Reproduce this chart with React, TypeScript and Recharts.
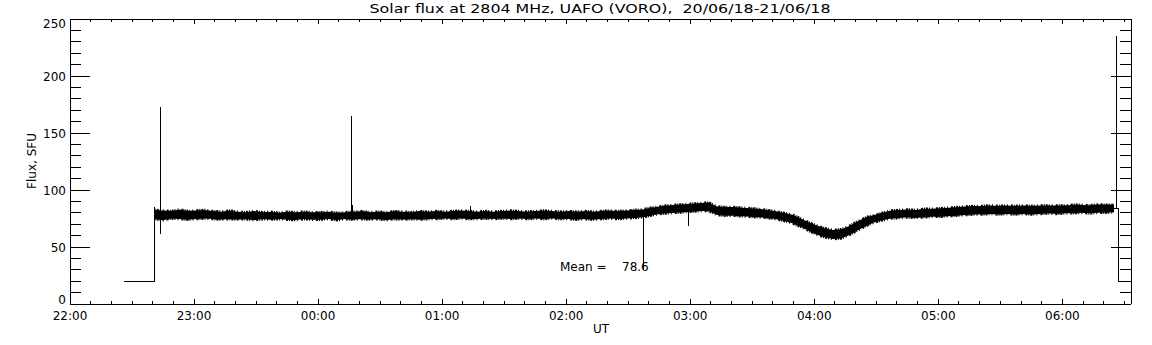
import { ComposedChart, Area, Line, XAxis, YAxis } from 'recharts'

// Plot frame of the IDL-style figure, in page pixels.
const PLOT = { left: 70, right: 1131, top: 19, bottom: 304 }
const W = 1152
const H = 345
const FONT = '"DejaVu Sans", sans-serif'

const TITLE = 'Solar flux at 2804 MHz, UAFO (VORO),  20/06/18-21/06/18'
const X_TITLE = 'UT'
const Y_TITLE = 'Flux, SFU'
const MEAN_LABEL = 'Mean ='
const MEAN_VALUE = '78.6'

// time axis is minutes after 22:00 UT
const hourLabels = ['22:00', '23:00', '00:00', '01:00', '02:00', '03:00', '04:00', '05:00', '06:00']
const fluxLabels = [0, 50, 100, 150, 200, 250]
const X_END = 513.2

// noisy flux band, read every 4 min starting at 22:41
const bandStart = 41
const bandStep = 4
const bandLow = [
  74.5, 73.5, 75, 74.5, 74, 74.5, 75, 74.5, 74, 74.5,
  74, 74.5, 73.5, 74.5, 74, 74.5, 74, 73.5, 74.5, 74,
  74, 74.5, 73.5, 74.5, 74, 74.5, 74, 74.5, 73.5, 74.5,
  74, 74.5, 74, 74.5, 74.5, 75, 74.5, 75, 74.5, 74.5,
  75, 74.5, 75, 74.5, 75, 74.5, 75, 74.5, 75, 74.5,
  74.5, 74, 74.5, 74, 74.5, 75, 74.5, 75, 75.5, 76,
  77.5, 79, 79.5, 80, 80.5, 81, 81.5, 81.5, 78, 77.5,
  77.5, 77, 76.5, 76, 75.5, 74.5, 73, 71, 68, 64.5,
  61, 58.5, 57, 57.5, 60.5, 64.5, 68.5, 71.5, 73.5, 75,
  75.5, 76, 75.5, 76, 76.5, 76.5, 77, 77.5, 78, 78.5,
  78.5, 79, 78.5, 79, 78.5, 79, 78.5, 79, 79.5, 79,
  79.5, 79.5, 80, 79.5, 80, 80, 80.5,
]
const bandHigh = [
  82.5, 82, 81.5, 83, 81.5, 82, 82.5, 81.5, 81, 82,
  81, 80.5, 81.5, 80.5, 81, 80, 81, 80.5, 81, 80.5,
  80.5, 81, 80, 80.5, 81, 81.5, 80.5, 81, 80.5, 81.5,
  81, 80.5, 81.5, 81, 81.5, 81, 81.5, 82, 81.5, 81,
  81.5, 81, 81.5, 82, 81.5, 81, 81.5, 82, 81.5, 81,
  81.5, 81, 81.5, 81, 81.5, 82, 81.5, 82, 82.5, 83,
  84.5, 85.5, 86.5, 87, 87.5, 88, 88.5, 89, 85.5, 85,
  85, 84.5, 84, 83.5, 82.5, 81.5, 80, 78.5, 75.5, 72,
  69, 66.5, 65, 65.5, 68.5, 72.5, 76, 78, 80, 82,
  82.5, 83, 82.5, 83.5, 83.5, 84, 84.5, 85, 85.5, 86,
  86, 86.5, 86, 86.5, 86, 86.5, 86, 86.5, 86.5, 86.5,
  86.5, 87, 87, 86.5, 87.5, 87, 87.5,
]

// isolated spikes: time, bottom, top
const spikeTimes = [43.7, 136.1, 136.6, 193.7, 277.2, 299.1, 506.2]
const spikeLow = [61, 76, 78, 78, 30, 68.7, 84]
const spikeHigh = [173, 165, 87, 86, 80, 83, 235]

// calibration steps at both ends of the run
const startTimes = [26.1, 40.8, 40.8]
const startFlux = [20, 20, 85]
const endTimes = [505, 507, 507, X_END]
const endFlux = [84, 84, 20, 20]

const bandData = bandLow.map((lo, i) => ({ t: bandStart + i * bandStep, range: [lo, bandHigh[i]] }))
const spikeData = spikeTimes.flatMap((t, i) => [
  { t, v: spikeLow[i] },
  { t, v: spikeHigh[i] },
  { t, v: null },
])
const startData = startTimes.map((t, i) => ({ t, v: startFlux[i] }))
const endData = endTimes.map((t, i) => ({ t, v: endFlux[i] }))

const minuteTicks: number[] = []
for (let m = 0; m <= 510; m += 10) minuteTicks.push(m)
const fluxTicks: number[] = []
for (let f = 0; f <= 250; f += 10) fluxTicks.push(f)

const BottomTick = (props: any) => {
  const { x, payload } = props
  const major = payload.value % 60 === 0
  return (
    <g>
      <line x1={x} x2={x} y1={PLOT.bottom} y2={PLOT.bottom - (major ? 5 : 3)} stroke="#000" shapeRendering="crispEdges" />
      {major && (
        <text x={x} y={320} textAnchor="middle" fontSize={12} fontFamily={FONT} fill="#000">
          {hourLabels[payload.value / 60]}
        </text>
      )}
    </g>
  )
}

const TopTick = (props: any) => {
  const { x, payload } = props
  const major = payload.value % 60 === 0
  return (
    <line x1={x} x2={x} y1={PLOT.top} y2={PLOT.top + (major ? 5 : 3)} stroke="#000" shapeRendering="crispEdges" />
  )
}

const LeftTick = (props: any) => {
  const { y, payload } = props
  const v = payload.value
  const major = v % 50 === 0
  // IDL keeps the end labels inside the frame
  const baseline = v === 0 ? y : v === 250 ? y + 8.5 : y + 4.7
  return (
    <g>
      <line x1={PLOT.left} x2={PLOT.left + (major ? 20 : 11)} y1={y} y2={y} stroke="#000" shapeRendering="crispEdges" />
      {major && fluxLabels.includes(v) && (
        <text x={66} y={baseline} textAnchor="end" fontSize={12} fontFamily={FONT} fill="#000">
          {v}
        </text>
      )}
    </g>
  )
}

const RightTick = (props: any) => {
  const { y, payload } = props
  const major = payload.value % 50 === 0
  return (
    <line x1={PLOT.right} x2={PLOT.right - (major ? 20 : 11)} y1={y} y2={y} stroke="#000" shapeRendering="crispEdges" />
  )
}

export default function App() {
  const axisLine = { stroke: '#000', shapeRendering: 'crispEdges' }
  return (
    <div style={{ position: 'absolute', left: 0, top: 0, width: W, height: H, background: '#fff' }}>
      <ComposedChart
        width={W}
        height={H}
        margin={{ top: PLOT.top - 1, right: W - PLOT.right - 1, bottom: H - PLOT.bottom - 1, left: PLOT.left - 1 }}
      >
        <XAxis
          dataKey="t"
          type="number"
          domain={[0, X_END]}
          allowDataOverflow
          ticks={minuteTicks}
          interval={0}
          height={1}
          tickLine={false}
          axisLine={axisLine}
          tick={BottomTick}
        />
        <XAxis
          xAxisId="top"
          orientation="top"
          dataKey="t"
          type="number"
          domain={[0, X_END]}
          allowDataOverflow
          ticks={minuteTicks}
          interval={0}
          height={1}
          tickLine={false}
          axisLine={axisLine}
          tick={TopTick}
        />
        <YAxis
          type="number"
          domain={[0, 250]}
          allowDataOverflow
          ticks={fluxTicks}
          interval={0}
          width={1}
          tickLine={false}
          axisLine={axisLine}
          tick={LeftTick}
        />
        <YAxis
          yAxisId="r"
          orientation="right"
          type="number"
          domain={[0, 250]}
          allowDataOverflow
          ticks={fluxTicks}
          interval={0}
          width={1}
          tickLine={false}
          axisLine={axisLine}
          tick={RightTick}
        />
        {/* dashed edge stroke gives the band its ragged noise fringe */}
        <Area
          data={bandData}
          dataKey="range"
          type="linear"
          stroke="#000"
          strokeWidth={2.5}
          strokeDasharray="1 1 2 1 1 2 1 3 2 1"
          fill="#000"
          fillOpacity={1}
          isAnimationActive={false}
          dot={false}
          activeDot={false}
        />
        <Line data={startData} dataKey="v" type="linear" stroke="#000" strokeWidth={1} dot={false} activeDot={false} isAnimationActive={false} shapeRendering="crispEdges" />
        <Line data={endData} dataKey="v" type="linear" stroke="#000" strokeWidth={1} dot={false} activeDot={false} isAnimationActive={false} shapeRendering="crispEdges" />
        <Line data={spikeData} dataKey="v" type="linear" stroke="#000" strokeWidth={1} dot={false} activeDot={false} connectNulls={false} isAnimationActive={false} shapeRendering="crispEdges" />
      </ComposedChart>
      <svg width={W} height={H} style={{ position: 'absolute', left: 0, top: 0, pointerEvents: 'none' }}>
        <g fontFamily={FONT} fontSize={12} fill="#000">
          <text x={600} y={13} textAnchor="middle" textLength={461} lengthAdjust="spacingAndGlyphs" style={{ whiteSpace: 'pre' }}>
            {TITLE}
          </text>
          <text x={601} y={333} textAnchor="middle">{X_TITLE}</text>
          <text transform="translate(36,161) rotate(-90)" textAnchor="middle">{Y_TITLE}</text>
          <text y={271}>
            <tspan x={560}>{MEAN_LABEL}</tspan>
            <tspan x={622}>{MEAN_VALUE}</tspan>
          </text>
        </g>
      </svg>
    </div>
  )
}
